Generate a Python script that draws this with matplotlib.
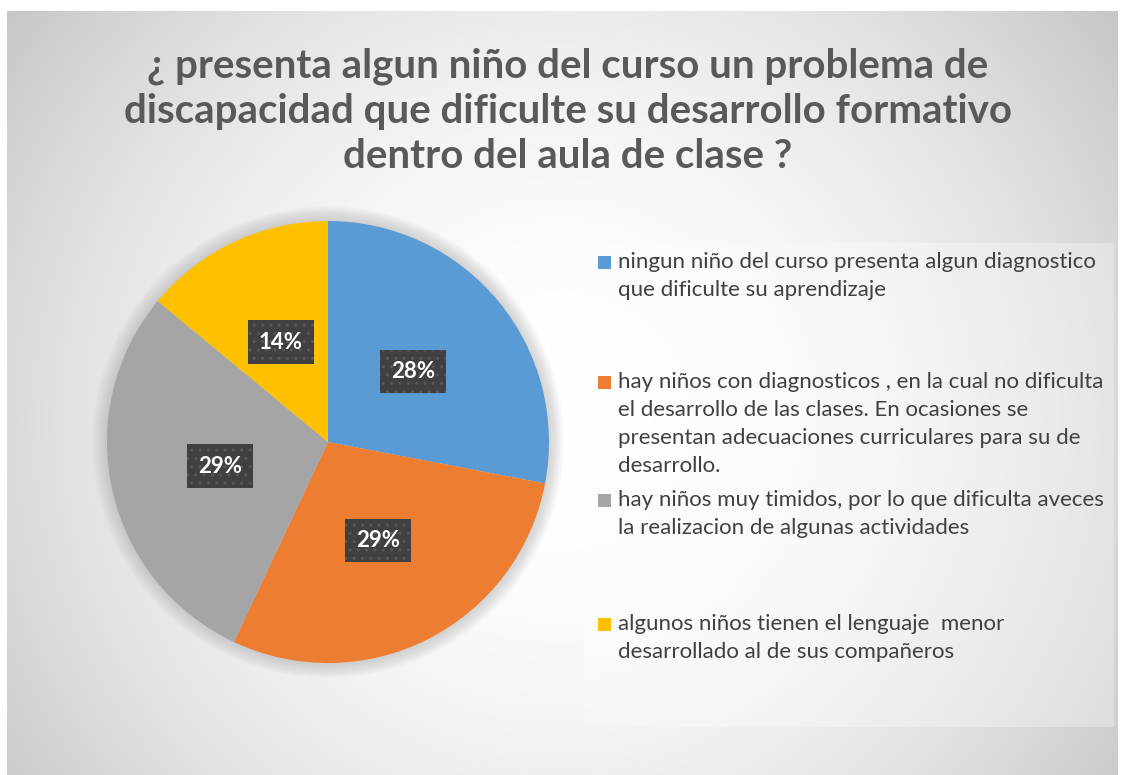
import numpy as np
import matplotlib
matplotlib.use("Agg")
import matplotlib.pyplot as plt
from matplotlib.patches import Rectangle, Circle

plt.rcParams['font.family'] = ['Lato', 'DejaVu Sans']

title = ("¿ presenta algun niño del curso un problema de\n"
         "discapacidad que dificulte su desarrollo formativo\n"
         "dentro del aula de clase ?")
labels = [
    "ningun niño del curso presenta algun diagnostico\nque dificulte su aprendizaje",
    "hay niños con diagnosticos , en la cual no dificulta\nel desarrollo de las clases. En ocasiones se\npresentan adecuaciones curriculares para su de\ndesarrollo.",
    "hay niños muy timidos, por lo que dificulta aveces\nla realizacion de algunas actividades",
    "algunos niños tienen el lenguaje  menor\ndesarrollado al de sus compañeros",
]
values = [28, 29, 29, 14]
colors = ["#5B9BD5", "#ED7D31", "#A5A5A5", "#FFC000"]

W, H = 1121, 775
fig = plt.figure(figsize=(W / 100, H / 100), dpi=100)
ax = fig.add_axes([0, 0, 1, 1])

# background radial gradient (pixel coords, y down)
x0, x1, y0, y1 = 7, 1118, 11, 775
xx, yy = np.meshgrid(np.arange(x0, x1), np.arange(y0, y1))
d2 = (xx - 560) ** 2 + (yy - 420) ** 2
g = np.clip(255 - 1.2e-4 * d2, 190, 255) / 255
ax.imshow(np.dstack([g, g, g]), extent=(x0, x1, y1, y0), zorder=0)

# pie shadow glow
cx, cy, r = 328, 442, 221
for k in range(1, 16):
    ax.add_patch(Circle((cx, cy), r + k, fc="#7a7a7a", ec="none", alpha=0.018, zorder=1))

wedges, texts, autotexts = ax.pie(
    values, colors=colors, center=(cx, cy), radius=r,
    startangle=-90, counterclock=True, autopct="%d%%", pctdistance=0.5,
    wedgeprops=dict(linewidth=0),
    textprops=dict(color="white", fontsize=16, fontweight="bold"))
for w in wedges:
    w.set_zorder(2)
for t in autotexts:
    t.set_zorder(3)
    t.set_bbox(dict(boxstyle="square,pad=0.5", fc="#404040", ec="#575757",
                    lw=0, hatch=".."))

ax.set_xlim(0, W)
ax.set_ylim(H, 0)
ax.set_aspect("auto")
ax.axis("off")

# title
ax.text(568, 111, title, ha="center", va="center", fontsize=29,
        fontweight="bold", color="#595959", linespacing=1.27, zorder=4)

# legend box
ax.add_patch(Rectangle((584, 243), 530, 484, fc="white", ec="none", alpha=0.3, zorder=1))
first_line = [262, 382, 500, 624]
for lab, col, yl in zip(labels, colors, first_line):
    ax.add_patch(Rectangle((598, yl - 6), 13, 13, fc=col, ec="none", zorder=4))
    for i, line in enumerate(lab.split("\n")):
        ax.text(618, yl + i * 28, line, ha="left", va="center", fontsize=16,
                color="#404040", zorder=4)

fig.savefig("out.png", dpi=100, facecolor="white")
